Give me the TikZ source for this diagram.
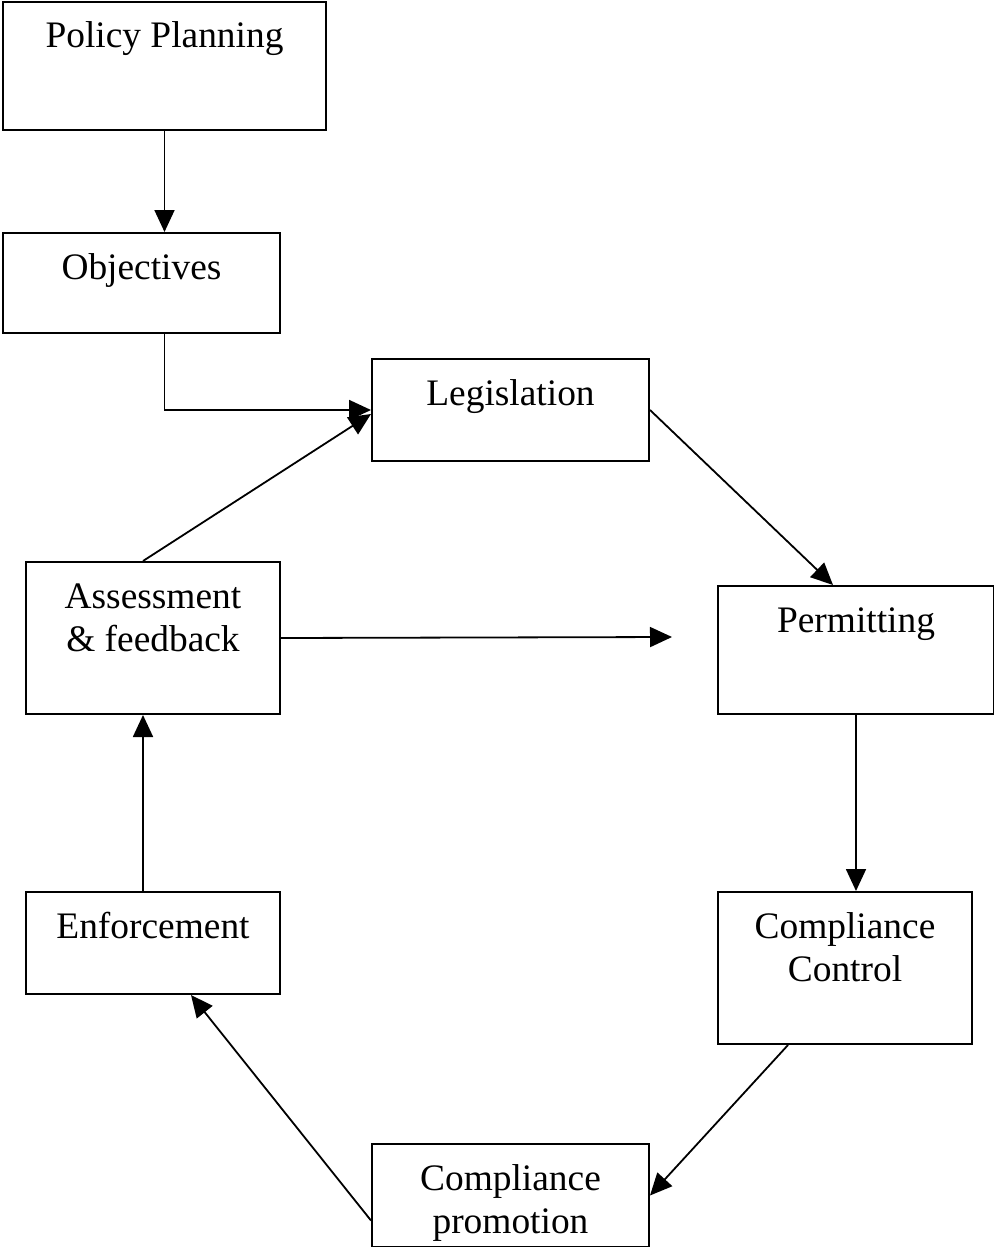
\documentclass[tikz,border=0pt]{standalone}
\usepackage{fontspec}
\setmainfont{Liberation Serif}
\usepackage{tikz}
\usetikzlibrary{arrows.meta,calc}
\definecolor{ink}{HTML}{000000}

\begin{document}
\begin{tikzpicture}[x=0.5pt, y=-0.5pt, font=\fontsize{18.7}{21.5}\selectfont,
  box/.style={draw=ink, line width=1pt, inner sep=0pt, anchor=north west,
    align=center, text height=23pt},
  twoline/.style={text height=44.5pt},
  link/.style={draw=ink, line width=0.9pt, -{Triangle[length=11pt,width=10pt]}}]
  \useasboundingbox (0,0) rectangle (994,1247);

  % boxes
  \node[box, minimum width=161.5pt, text depth=41pt] (plan) at (2,1) {Policy Planning};
  \node[box, minimum width=138.5pt, text depth=27pt] (obj) at (2,232) {Objectives};
  \node[box, minimum width=138.5pt, text depth=28pt] (leg) at (371,358) {Legislation};
  \node[box, twoline, minimum width=127pt, text depth=31.5pt] (assess) at (25,561) {Assessment\\\& feedback};
  \node[box, minimum width=138pt, text depth=41pt] (permit) at (717,585) {Permitting};
  \node[box, twoline, minimum width=127pt, text depth=31.5pt] (control) at (717,891) {Compliance\\Control};
  \node[box, minimum width=127pt, text depth=28pt] (enforce) at (25,891) {Enforcement};
  \node[box, twoline, minimum width=138.5pt, text depth=7pt] (promo) at (371,1143) {Compliance\\promotion};
  \coordinate (open) at (672,637);

  % top chain
  \draw[link] (plan.south) -- (plan.south |- obj.north);
  \draw[link] (plan.south |- obj.south) |- (leg.west);
  \draw[link] (leg.east) -- ([xshift=-11.5pt]permit.north);

  % cycle
  \draw[link] (permit.south) -- (permit.south |- control.north);
  \draw[link] ([xshift=-28.5pt]control.south) -- (promo.east);
  \draw[link] ([yshift=-12.5pt]promo.west) -- ([xshift=19pt]enforce.south);
  \draw[link] ([xshift=-5pt]enforce.north) -- ([xshift=-5pt]assess.south);
  \draw[link] ([xshift=-5pt]assess.north) -- ([yshift=-2pt]leg.west);
  \draw[link] (assess.east) -- (open);
\end{tikzpicture}
\end{document}
